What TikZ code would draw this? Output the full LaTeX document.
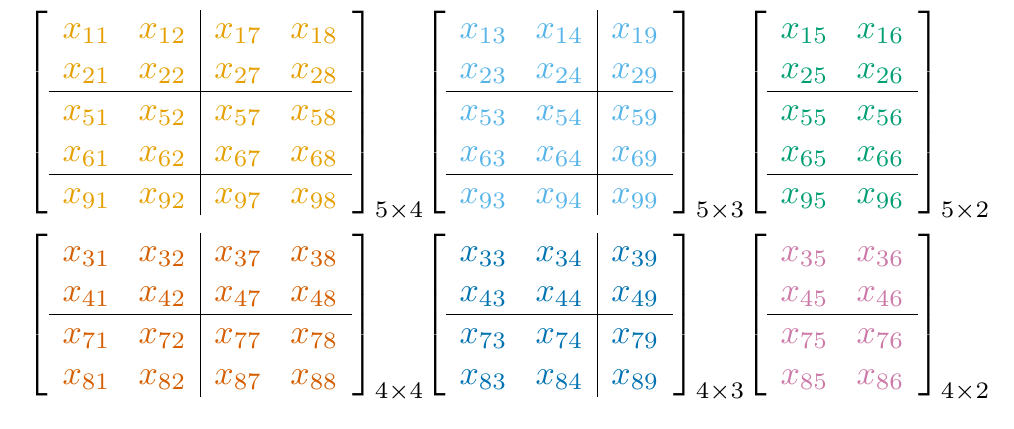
\documentclass[tikz,border=0pt]{standalone}
\definecolor{oiorange}{HTML}{E69F00}
\definecolor{oisky}{HTML}{56B4E9}
\definecolor{oigreen}{HTML}{009E73}
\definecolor{oiverm}{HTML}{D55E00}
\definecolor{oiblue}{HTML}{0072B2}
\definecolor{oipurple}{HTML}{CC79A7}
\colorlet{mcol}{black}
\newcommand{\xent}[1]{\textcolor{mcol}{x_{#1}}}
\setlength{\arraycolsep}{4.15pt}
\begin{document}
\begin{tikzpicture}[x=0.296pt,y=-0.296pt,
  mat/.style={inner sep=0pt, outer sep=0pt, anchor=north west}]
\useasboundingbox (0,0) rectangle (1014,428);
\node[mat] (m1) at (26,10) {\colorlet{mcol}{oiorange}$\left[\begin{array}{cc|cc}
\xent{11} & \xent{12} & \xent{17} & \xent{18}\\
\xent{21} & \xent{22} & \xent{27} & \xent{28}\\\hline
\xent{51} & \xent{52} & \xent{57} & \xent{58}\\
\xent{61} & \xent{62} & \xent{67} & \xent{68}\\\hline
\xent{91} & \xent{92} & \xent{97} & \xent{98}
\end{array}\right]_{5\times 4}$};
\node[mat] (m2) at (423,10) {\colorlet{mcol}{oisky}$\left[\begin{array}{cc|c}
\xent{13} & \xent{14} & \xent{19}\\
\xent{23} & \xent{24} & \xent{29}\\\hline
\xent{53} & \xent{54} & \xent{59}\\
\xent{63} & \xent{64} & \xent{69}\\\hline
\xent{93} & \xent{94} & \xent{99}
\end{array}\right]_{5\times 3}$};
\node[mat] (m3) at (744,10) {\colorlet{mcol}{oigreen}$\left[\begin{array}{cc}
\xent{15} & \xent{16}\\
\xent{25} & \xent{26}\\\hline
\xent{55} & \xent{56}\\
\xent{65} & \xent{66}\\\hline
\xent{95} & \xent{96}
\end{array}\right]_{5\times 2}$};
\node[mat] (m4) at (26,233) {\colorlet{mcol}{oiverm}$\left[\begin{array}{cc|cc}
\xent{31} & \xent{32} & \xent{37} & \xent{38}\\
\xent{41} & \xent{42} & \xent{47} & \xent{48}\\\hline
\xent{71} & \xent{72} & \xent{77} & \xent{78}\\
\xent{81} & \xent{82} & \xent{87} & \xent{88}
\end{array}\right]_{4\times 4}$};
\node[mat] (m5) at (423,233) {\colorlet{mcol}{oiblue}$\left[\begin{array}{cc|c}
\xent{33} & \xent{34} & \xent{39}\\
\xent{43} & \xent{44} & \xent{49}\\\hline
\xent{73} & \xent{74} & \xent{79}\\
\xent{83} & \xent{84} & \xent{89}
\end{array}\right]_{4\times 3}$};
\node[mat] (m6) at (744,233) {\colorlet{mcol}{oipurple}$\left[\begin{array}{cc}
\xent{35} & \xent{36}\\
\xent{45} & \xent{46}\\\hline
\xent{75} & \xent{76}\\
\xent{85} & \xent{86}
\end{array}\right]_{4\times 2}$};
\end{tikzpicture}
\end{document}
